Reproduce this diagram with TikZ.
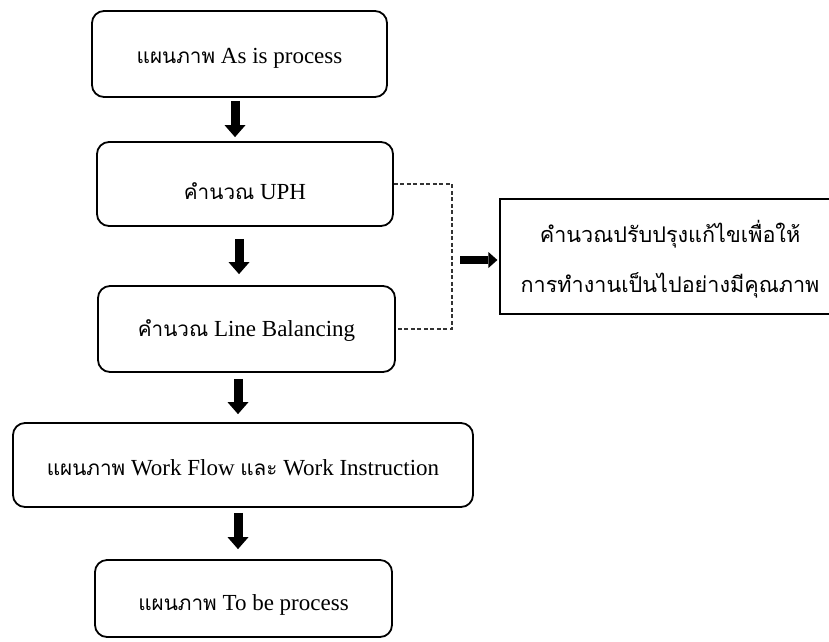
\documentclass[tikz,border=0pt]{standalone}
\usepackage{fontspec}
\setmainfont{Liberation Serif}
\newfontfamily\thai[Script=Thai,Scale=0.9]{Loma}
\usetikzlibrary{arrows.meta}
\newcommand{\lowr}[2]{\raisebox{-#1}[\height][\depth]{#2}}
\begin{document}
\begin{tikzpicture}[x=1pt,y=-1pt,
  box/.style={draw,line width=1.8pt,rounded corners=12pt,inner sep=0pt,
    font=\fontsize{23}{28}\selectfont},
  varr/.style={line width=9pt,-{Triangle[width=21pt,length=12pt,line width=0pt]}},
  harr/.style={line width=8pt,-{Triangle[width=16pt,length=9pt,line width=0pt]}},
  dashline/.style={draw=black!80,line width=1.1pt,dash pattern=on 4pt off 2.5pt},
  notebox/.style={draw,line width=1.2pt,inner sep=0pt,align=center,
    font=\fontsize{24}{50}\selectfont}]
\useasboundingbox (0,0) rectangle (829,641);
\node[box,minimum width=295pt,minimum height=86pt] (b1) at (239.5,54) {\lowr{4pt}{{\thai แผนภาพ} As is process}};
\node[box,minimum width=296pt,minimum height=84pt] (b2) at (245,184) {\lowr{7pt}{{\thai คำนวณ} UPH}};
\node[box,minimum width=297pt,minimum height=86pt] (b3) at (246.5,329) {\lowr{2pt}{{\thai คำนวณ} Line Balancing}};
\node[box,minimum width=460pt,minimum height=84pt] (b4) at (243,465) {\lowr{3pt}{{\thai แผนภาพ} Work Flow {\thai และ} Work Instruction}};
\node[box,minimum width=297pt,minimum height=77pt] (b5) at (243.5,598.5) {\lowr{6pt}{{\thai แผนภาพ} To be process}};
\node[notebox,minimum width=340pt,minimum height=115pt] (rb) at (670,256.5)
  {\lowr{3pt}{\thai คำนวณปรับปรุงแก้ไขเพื่อให้}\\ \lowr{3pt}{\thai การทำงานเป็นไปอย่างมีคุณภาพ}};
\draw[varr,shorten <=3pt,shorten >=4pt] ([xshift=-4.5pt]b1.south) -- ([xshift=-10pt]b2.north);
\draw[varr,shorten <=12pt,shorten >=11pt] ([xshift=-6pt]b2.south) -- ([xshift=-7.5pt]b3.north);
\draw[varr,shorten <=6pt,shorten >=8pt] ([xshift=-8.5pt]b3.south) -- ([xshift=-5pt]b4.north);
\draw[varr,shorten <=5pt,shorten >=10pt] ([xshift=-5pt]b4.south) -- ([xshift=-5.5pt]b5.north);
\coordinate (dc) at (452,0);
\draw[dashline] (b2.east) -| (dc |- b3.east) -- (b3.east);
\coordinate (ra) at (460,260);
\draw[harr,shorten >=2pt] (ra) -- (ra -| rb.west);
\end{tikzpicture}
\end{document}
